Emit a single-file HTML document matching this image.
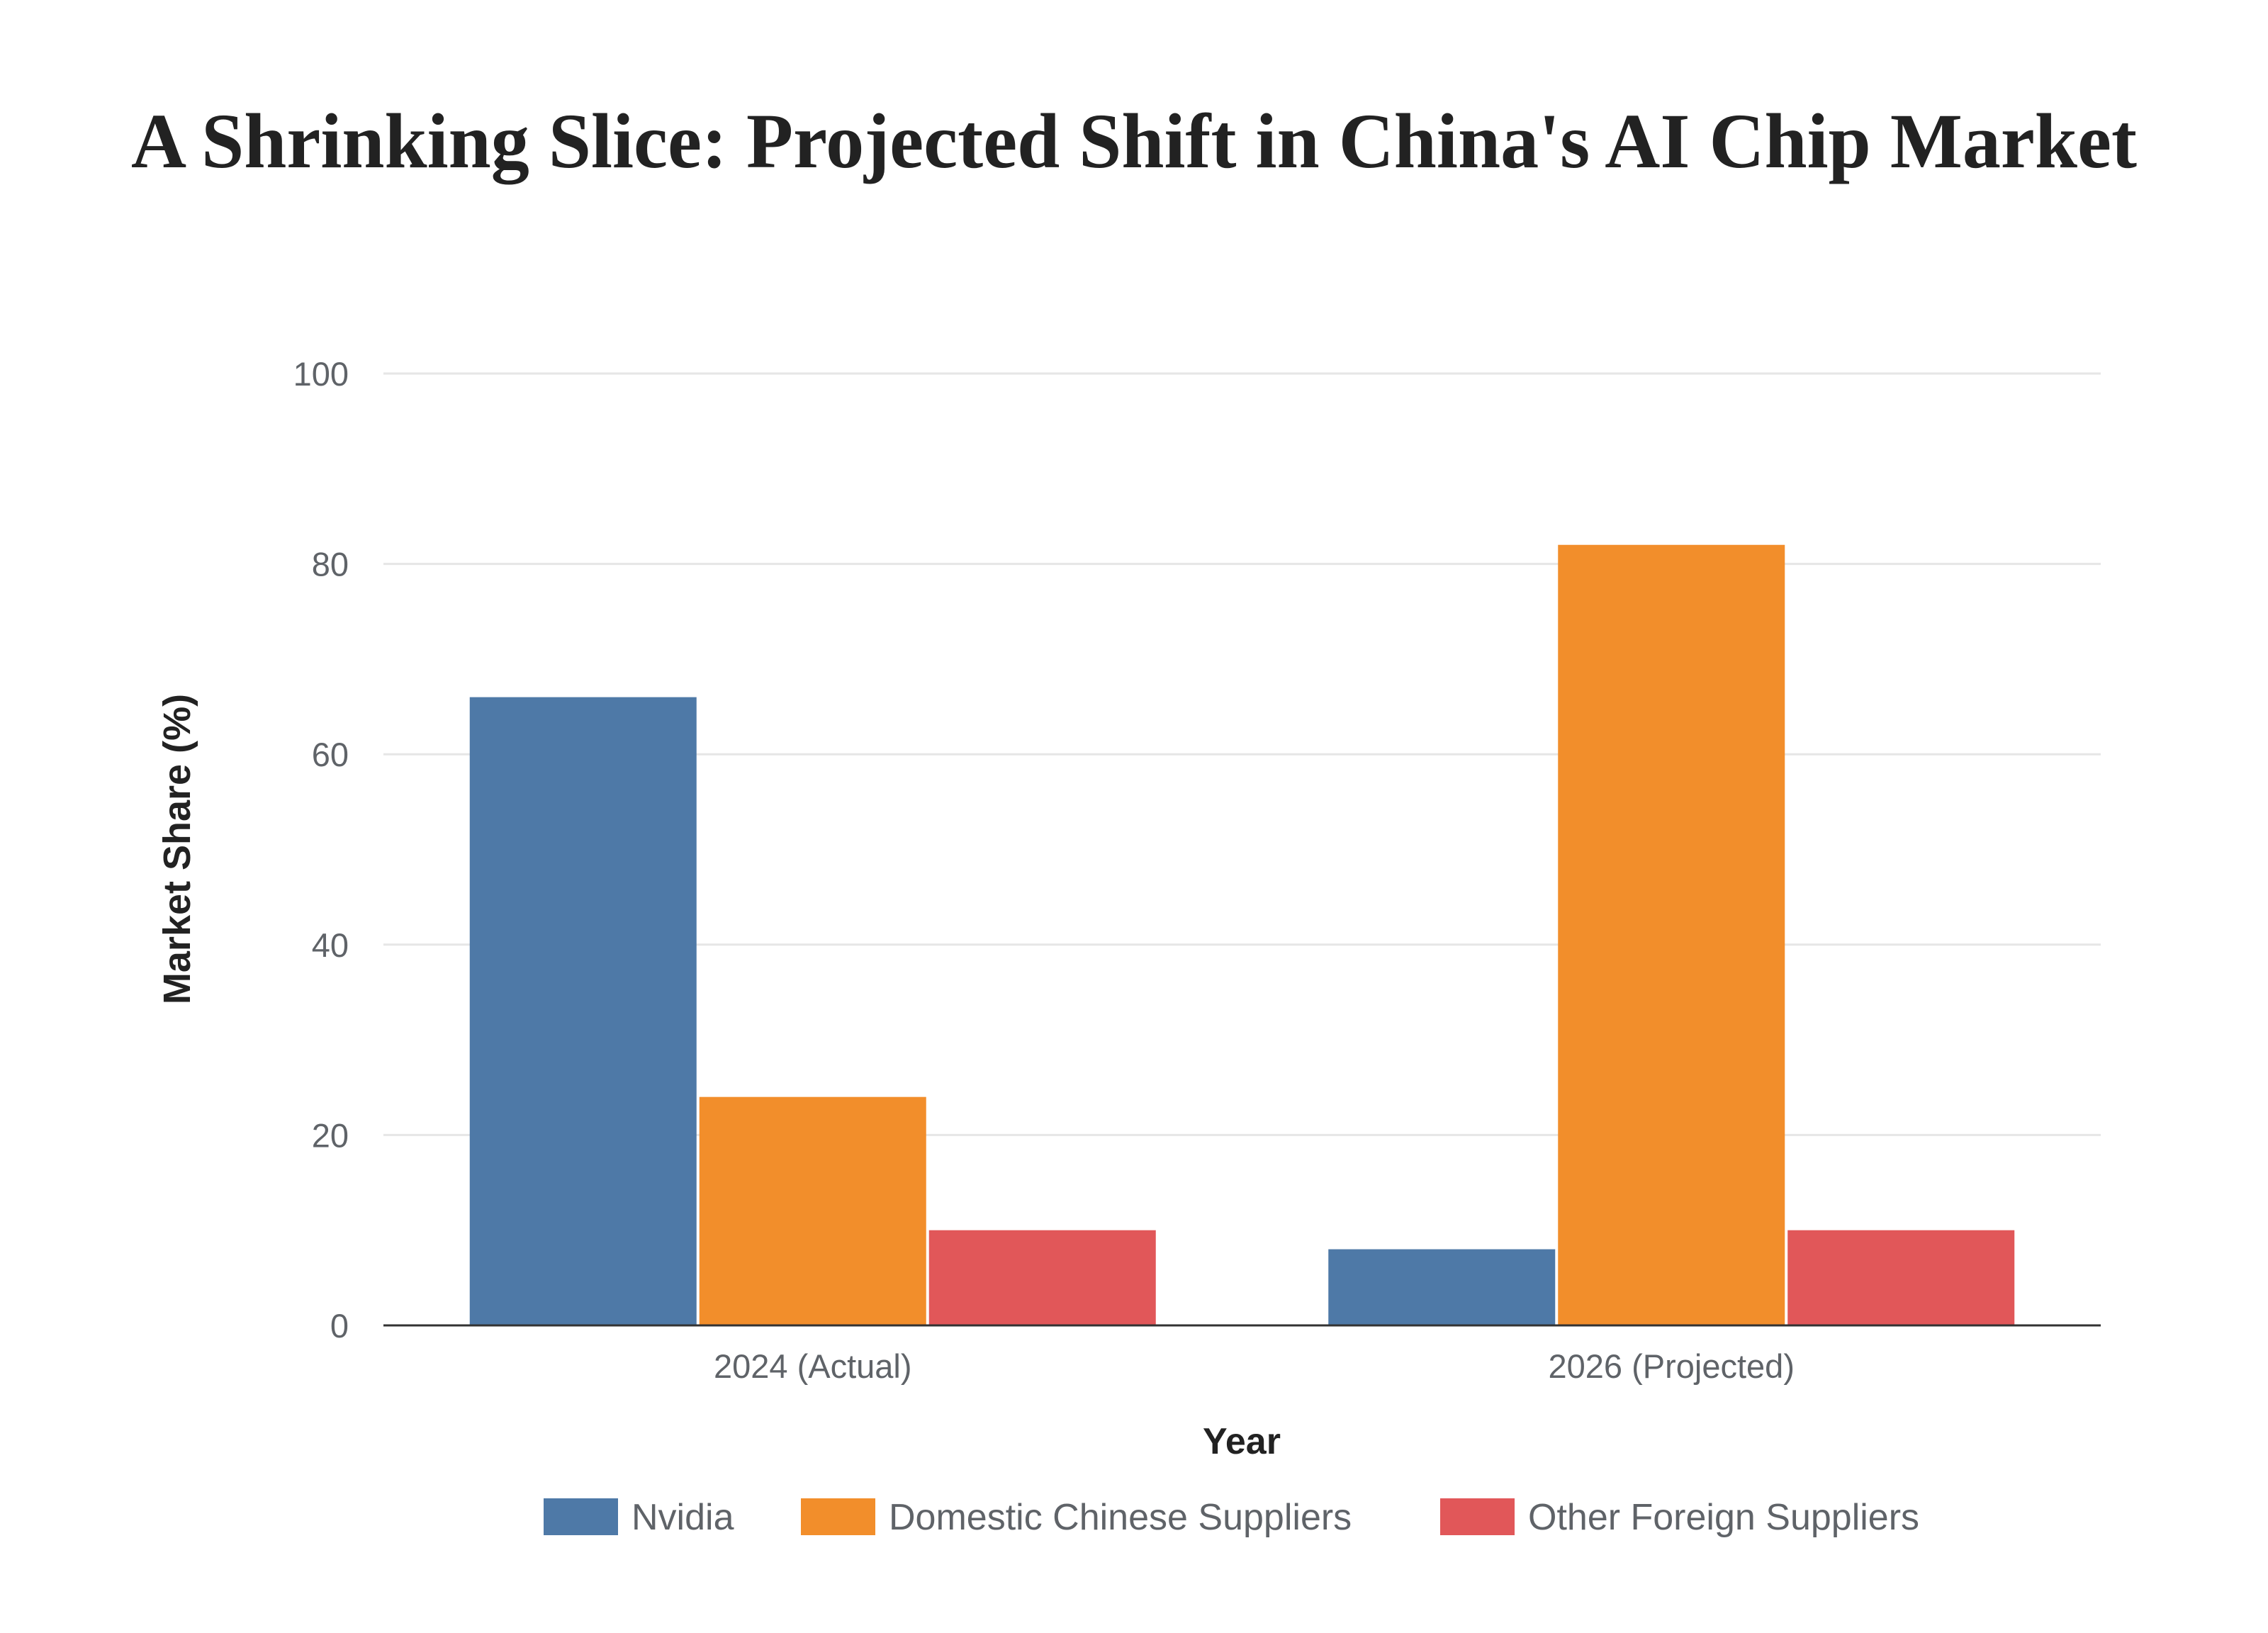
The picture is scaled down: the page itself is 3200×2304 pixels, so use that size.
<!DOCTYPE html>
<html><head><meta charset="utf-8"><style>
html,body{margin:0;padding:0;background:#fff;}
svg{display:block;}
</style></head><body>
<svg id="chart" width="3200" height="2304" viewBox="0 0 3200 2304" xmlns="http://www.w3.org/2000/svg">
<text x="1600" y="236" text-anchor="middle" font-family="Liberation Serif, serif" font-weight="bold" font-size="110" fill="#222" textLength="2830" lengthAdjust="spacingAndGlyphs">A Shrinking Slice: Projected Shift in China's AI Chip Market</text>
<g id="grid"></g>
<g id="bars"></g>
<g id="axes"></g>
<text transform="translate(268,1198) rotate(-90)" text-anchor="middle" font-family="Liberation Sans, sans-serif" font-weight="bold" font-size="54" fill="#222">Market Share (%)</text>
<text x="1752" y="2051" text-anchor="middle" font-family="Liberation Sans, sans-serif" font-weight="bold" font-size="52" fill="#222">Year</text>
<g id="legend"></g>
</svg>
<script>
const categories = ["2024 (Actual)", "2026 (Projected)"];
const seriesNames = ["Nvidia", "Domestic Chinese Suppliers", "Other Foreign Suppliers"];
const nvidia = [66, 8];
const domestic = [24, 82];
const otherForeign = [10, 10];
const yTicks = [0, 20, 40, 60, 80, 100];

const colors = ["#4e79a7", "#f28e2b", "#e15759"];
const series = [nvidia, domestic, otherForeign];
const NS = "http://www.w3.org/2000/svg";
const L = 541, R = 2964, T = 527, B = 1870;
const y = v => B - (v / 100) * (B - T);
const band = (R - L) / categories.length;
const xc = i => L + band * (i + 0.5);
const barW = 320, gap = 4;
function mk(tag, attrs, parent) {
  const e = document.createElementNS(NS, tag);
  for (const k in attrs) e.setAttribute(k, attrs[k]);
  parent.appendChild(e);
  return e;
}
const grid = document.getElementById('grid');
const axes = document.getElementById('axes');
yTicks.forEach(t => {
  if (t > 0) {
    const g = mk('line', {x1: L, x2: R, y1: y(t), y2: y(t), stroke: '#e6e6e6', 'stroke-width': 3}, grid);
    
    
  }
  const tx = mk('text', {x: 492, y: y(t) + 17, 'text-anchor': 'end', 'font-family': 'Liberation Sans, sans-serif', 'font-size': 47, fill: '#5f6368'}, axes);
  tx.textContent = t;
  
  
});
const bars = document.getElementById('bars');
categories.forEach((c, i) => {
  const total = barW * 3 + gap * 2;
  series.forEach((s, j) => {
    const x0 = xc(i) - total / 2 + j * (barW + gap);
    const r = mk('rect', {x: x0, y: y(s[i]), width: barW, height: B - y(s[i]), fill: colors[j]}, bars);
    
    
  });
  const lt = mk('text', {x: xc(i), y: 1944, 'text-anchor': 'middle', 'font-family': 'Liberation Sans, sans-serif', 'font-size': 47, fill: '#5f6368'}, axes);
  lt.textContent = c;
  
  
});
const ax = mk('line', {x1: L, x2: R, y1: B, y2: B, stroke: '#333', 'stroke-width': 3}, axes);


const legend = document.getElementById('legend');
const legX = [767, 1130, 2032];
seriesNames.forEach((n, j) => {
  const sw = mk('rect', {x: legX[j], y: 2114, width: 105, height: 52, fill: colors[j]}, legend);
  
  
  const t = mk('text', {x: legX[j] + 124, y: 2158, 'font-family': 'Liberation Sans, sans-serif', 'font-size': 52, fill: '#5f6368'}, legend);
  t.textContent = n;
  
  
});
</script>
</body></html>
